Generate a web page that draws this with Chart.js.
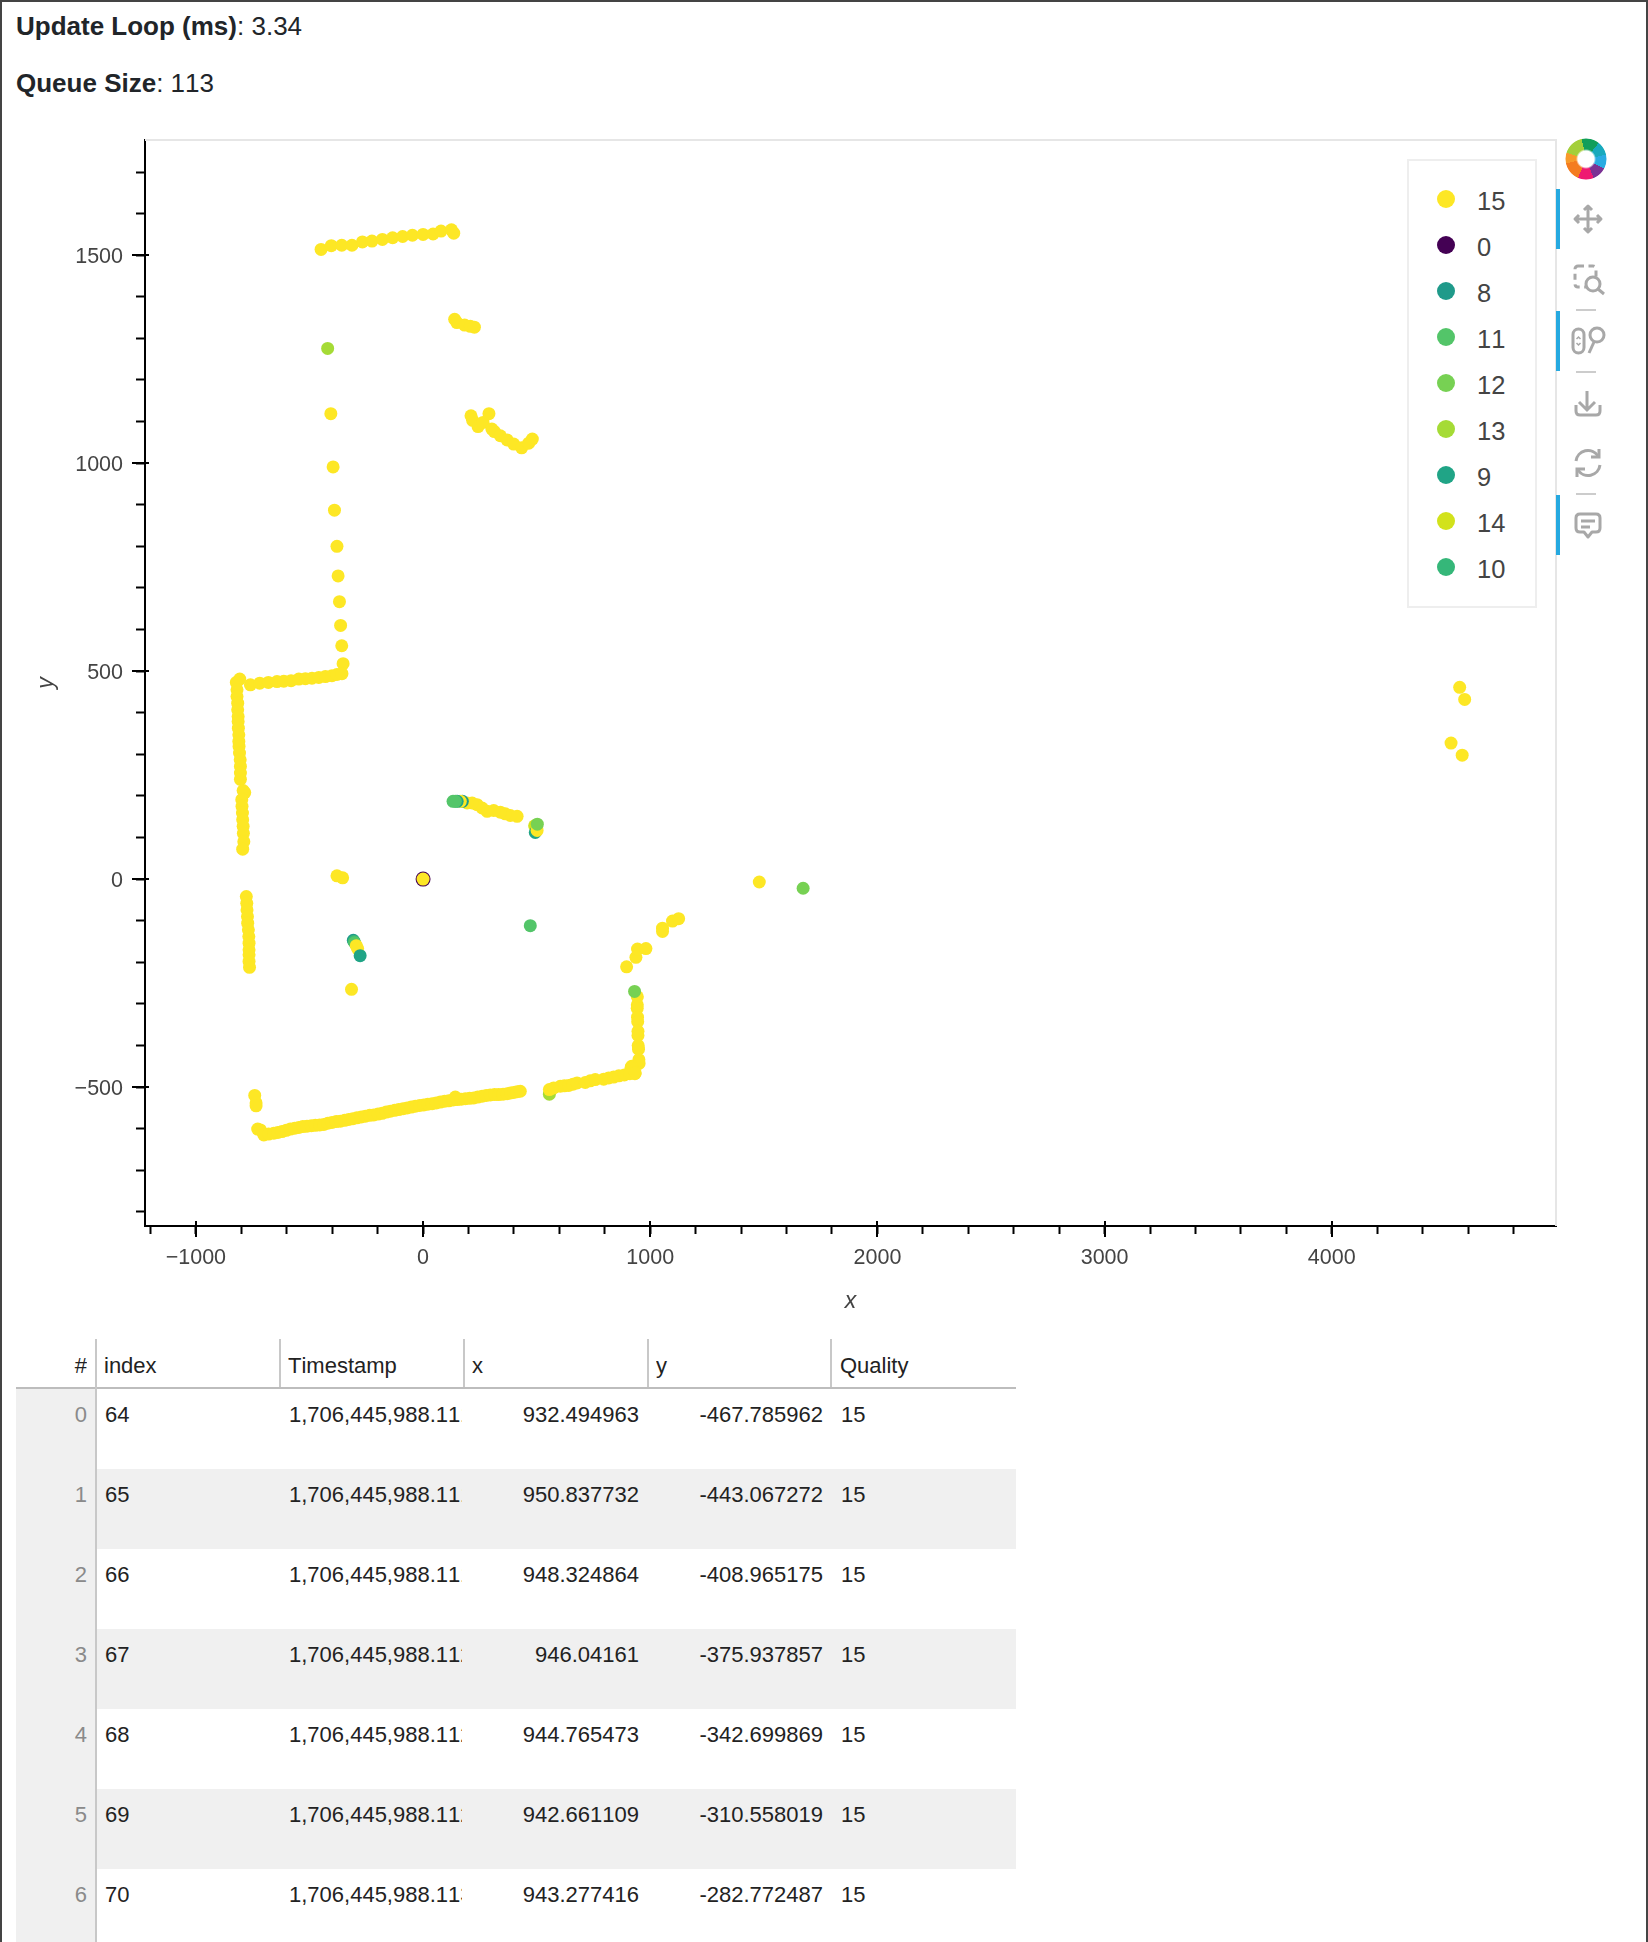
<!DOCTYPE html>
<html><head><meta charset="utf-8">
<script src="https://cdn.jsdelivr.net/npm/chart.js@4/dist/chart.umd.js"></script>
<style>
html,body{margin:0;padding:0;background:#fff}
body{position:relative;width:1648px;height:1942px;overflow:hidden;font-family:"Liberation Sans",Arial,sans-serif;color:#212529;font-kerning:none}
#frame{position:absolute;left:0;top:0;height:1942px;border-left:2px solid #444;border-top:2px solid #444;border-right:2px solid #444;box-sizing:border-box;width:1648px;pointer-events:none;z-index:5}
.stat{position:absolute;left:16px;font-size:26px;line-height:30px;white-space:pre}
canvas{position:absolute;left:0;top:0}
#legend{position:absolute;left:1407px;top:159px;width:130px;height:449px;box-sizing:border-box;border:2px solid #eee;background:#fff}
.lgd{position:absolute;left:0;width:126px;height:46px}
.lgd i{position:absolute;left:28px;top:14px;width:18px;height:18px;border-radius:50%}
.lgd span{position:absolute;left:68px;top:10.500px;font-size:25.5px;line-height:28px;color:#444}
.cell{position:absolute;font-size:22px;line-height:26px;white-space:nowrap;overflow:hidden;color:#222}
.bar{position:absolute;background:#26a9e0;left:1556px;width:4px;height:60px}
.sep{position:absolute;background:#ccc;left:1576px;width:20px;height:2px}
svg.ic{position:absolute;left:1566px;width:44px;height:44px}
#logo{position:absolute;left:1565px;top:138px;width:42px;height:42px;border-radius:50%;
background:conic-gradient(from -12deg,#119e5a 0 50deg,#18a9bd 50deg 90deg,#29abe2 90deg 130deg,#7b3294 130deg 170deg,#ee1a72 170deg 215deg,#f47c20 215deg 270deg,#f79a2b 270deg 300deg,#a4cf3a 300deg 360deg);
-webkit-mask:radial-gradient(circle,transparent 0 8px,#000 10px 20px,transparent 21px);mask:radial-gradient(circle,transparent 0 8px,#000 10px 20px,transparent 21px)}
</style></head>
<body>
<div id="frame"></div>
<div class="stat" style="top:11px"><b>Update Loop (ms)</b>: 3.34</div>
<div class="stat" style="top:68px"><b>Queue Size</b>: 113</div>
<canvas id="c" width="1648" height="1330" style="width:1648px;height:1330px"></canvas>
<div id="legend"></div>
<div id="logo"></div>
<div class="bar" style="top:189px"></div><div class="bar" style="top:311px"></div><div class="bar" style="top:495px"></div>
<div class="sep" style="top:309px"></div><div class="sep" style="top:371px"></div><div class="sep" style="top:493px"></div>
<svg class="ic" style="top:197px" viewBox="0 0 44 44" fill="none" stroke="#a8a8a8" stroke-width="3" stroke-linejoin="round"><path d="M22 9V35M9 22H35M18 13l4-4 4 4M18 31l4 4 4-4M13 18l-4 4 4 4M31 18l4 4-4 4"/></svg>
<svg class="ic" style="top:259px" viewBox="0 0 44 44" fill="none" stroke="#a8a8a8" stroke-width="3"><rect x="9" y="7" width="21" height="21" rx="3" stroke-dasharray="6 4.500"/><circle cx="27" cy="25" r="7" fill="#fff"/><path d="M32 30l6 5"/></svg>
<svg class="ic" style="top:317px" viewBox="0 0 44 44" fill="none" stroke="#a8a8a8" stroke-width="3"><rect x="7" y="12" width="11" height="24" rx="5.500"/><path d="M10.500 22l2-2 2 2M10.500 26l2 2 2-2" stroke-width="1.500"/><circle cx="31" cy="18" r="7"/><path d="M28 25l-5 11"/></svg>
<svg class="ic" style="top:381px" viewBox="0 0 44 44" fill="none" stroke="#a8a8a8" stroke-width="3"><path d="M21 10V29M13 21l8 8 8-8M10 24v6q0 4 4 4H30q4 0 4-4v-6"/></svg>
<svg class="ic" style="top:441px" viewBox="0 0 44 44" fill="none" stroke="#a8a8a8" stroke-width="3"><path d="M10 20a12 12 0 0 1 22-5M34 24a12 12 0 0 1-22 5"/><path d="M33 8v8h-8M11 36v-8h8"/></svg>
<svg class="ic" style="top:502px" viewBox="0 0 44 44" fill="none" stroke="#a8a8a8" stroke-width="3" stroke-linejoin="round"><path d="M14 12H30q4 0 4 4V26q0 4-4 4H26l-4 5-4-5H14q-4 0-4-4V16q0-4 4-4ZM15 19H29M15 25H24"/></svg>
<div id="table"></div>
<script>
// ---- Scan points as [x, y, quality], in drawing order ----
const wallTop = [[-449,1514,15],[-404,1523,15],[-358,1524,15],[-313,1524,15],[-267,1532,15],[-225,1534,15],[-179,1538,15],[-134,1542,15],[-90,1545,15],[-47,1548,15],[0,1550,15],[44,1551,15],[79,1558,15],[125,1561,15],[135,1553,15]];
const wallShort = [[139,1346,15],[149,1338,15],[183,1332,15],[208,1329,15],[226,1327,15]];
const wallCurve = [[211,1114,15],[218,1103,15],[242,1088,15],[264,1098,15],[290,1119,15],[303,1082,15],[314,1076,15],[340,1066,15],[370,1056,15],[399,1046,15],[434,1037,15],[465,1048,15],[481,1058,15]];
const columnSparse = [[-420,1276,13],[-406,1119,15],[-396,991,15],[-390,887,15],[-379,800,15],[-374,729,15],[-368,667,15],[-363,610,15],[-358,561,15],[-352,518,15]];
const wallUpperLeft = [[-760,467,15],[-719,471,15],[-681,473,15],[-643,475,15],[-613,476,15],[-581,477,15],[-547,481,15],[-518,482,15],[-489,483,15],[-459,485,15],[-430,487,15],[-401,489,15],[-379,492,15],[-357,494,15]];
const wallLeft = [[-807,481,15],[-822,473,15],[-819,455,15],[-819,439,15],[-816,423,15],[-816,407,15],[-814,391,15],[-814,379,15],[-813,363,15],[-811,347,15],[-811,331,15],[-810,319,15],[-808,303,15],[-805,287,15],[-804,271,15],[-804,255,15],[-804,240,15],[-785,208,15],[-792,213,15],[-798,191,15],[-797,175,15],[-795,159,15],[-794,143,15],[-792,127,15],[-791,110,15],[-789,90,15],[-794,72,15]];
const wallLowerLeft = [[-778,-42,15],[-776,-58,15],[-775,-74,15],[-773,-90,15],[-772,-106,15],[-769,-122,15],[-767,-138,15],[-766,-154,15],[-766,-170,15],[-766,-182,15],[-766,-198,15],[-764,-212,15]];
const nearOrigin = [[-379,8,15],[-354,3,15],[0,0,0],[0,0,15]];
const centerCluster = [[414,151,15],[384,153,15],[362,157,15],[340,161,15],[311,165,15],[282,163,15],[260,171,15],[238,179,15],[216,183,15],[194,183,15],[173,187,8],[164,187,15],[150,187,9],[142,187,11],[132,187,11]];
const rightCluster = [[491,128,14],[494,112,9],[502,117,15],[503,132,12]];
const lowerCluster = [[-307,-147,8],[-304,-150,10],[-301,-153,11],[-294,-160,15],[-288,-167,15],[-277,-184,9],[-315,-265,15]];
const lonePoints = [[472,-112,11],[1480,-7,15],[1673,-22,12],[4563,461,15],[4585,432,15],[4525,327,15],[4574,298,15]];
const wallStairs = [[896,-211,15],[937,-188,15],[944,-168,15],[981,-167,15],[1054,-118,15],[1054,-126,15],[1098,-101,15],[1125,-95,15]];
const wallRightColumn = [[943.28,-282.77,15],[943,-302,15],[942.66,-310.56,15],[944,-332,15],[944.77,-342.70,15],[946,-366,15],[946.04,-375.94,15],[947,-400,15],[948.32,-408.97,15],[950,-434,15],[950.84,-443.07,15],[918,-450,15],[932.49,-467.79,15],[931,-270,12]];
const wallBottomA = [[-741,-520,15],[-735,-538,15],[-735,-545,15],[-728,-601,15],[-716,-603,15],[-701,-615,15],[-680,-613,15],[-657,-611,15],[-639,-609,15],[-621,-607,15],[-602,-604,15],[-584,-601,15],[-565,-599,15],[-547,-597,15],[-529,-595,15],[-511,-594,15],[-492,-593,15],[-474,-592,15],[-455,-591,15],[-437,-590,15],[-419,-587,15],[-401,-585,15],[-382,-583,15],[-364,-582,15],[-345,-580,15],[-327,-578,15],[-309,-576,15],[-291,-574,15],[-272,-572,15],[-254,-570,15],[-235,-568,15],[-217,-567,15],[-198,-565,15],[-180,-563,15],[-162,-560,15],[-144,-558,15],[-125,-556,15],[-107,-554,15],[-88,-552,15],[-70,-550,15],[-52,-548,15],[-34,-546,15],[-15,-544,15],[3,-543,15],[21,-541,15],[40,-540,15],[58,-538,15],[76,-536,15],[95,-534,15],[113,-533,15],[132,-531,15],[142,-524,15],[150,-530,15],[168,-529,15],[186,-528,15],[205,-527,15],[223,-526,15],[241,-524,15],[260,-522,15],[278,-520,15],[296,-519,15],[315,-518,15],[333,-518,15],[352,-517,15],[370,-516,15],[385,-514,15],[399,-513,15],[414,-511,15],[428,-510,15]];
const wallBottomB = [[556,-517,13],[556,-506,15],[575,-502,15],[604,-498,15],[622,-497,15],[641,-496,15],[660,-493,15],[678,-490,15],[714,-489,15],[736,-485,15],[758,-482,15],[795,-481,15],[817,-478,15],[839,-476,15],[862,-473,15],[886,-471,15],[915,-454,15],[910,-468,15],[934,-466,15]];

const qualityLabels = ['15','0','8','11','12','13','9','14','10'];
const qualityColors = ['#fde725','#440154','#1f9a8a','#53c569','#77d153','#a5db36','#20a486','#d2e21b','#35b779'];

const xMajorTicks = [-1000,0,1000,2000,3000,4000];
const yMajorTicks = [-500,0,500,1000,1500];
const xMinorTicks = [-1200,-1000,-800,-600,-400,-200,0,200,400,600,800,1000,1200,1400,1600,1800,2000,2200,2400,2600,2800,3000,3200,3400,3600,3800,4000,4200,4400,4600,4800];
const yMinorTicks = [-800,-700,-600,-500,-400,-300,-200,-100,0,100,200,300,400,500,600,700,800,900,1000,1100,1200,1300,1400,1500,1600,1700];

const tableRows = ['0','1','2','3','4','5','6'];
const tableIndex = ['64','65','66','67','68','69','70'];
const tableTimestamp = ['1,706,445,988.111','1,706,445,988.111','1,706,445,988.111','1,706,445,988.112','1,706,445,988.112','1,706,445,988.112','1,706,445,988.113'];
const tableX = ['932.494963','950.837732','948.324864','946.04161','944.765473','942.661109','943.277416'];
const tableY = ['-467.785962','-443.067272','-408.965175','-375.937857','-342.699869','-310.558019','-282.772487'];
const tableQuality = ['15','15','15','15','15','15','15'];
const tableHeaders = ['index','Timestamp','x','y','Quality'];

const allPoints = [].concat(wallTop,wallShort,wallCurve,columnSparse,wallUpperLeft,wallLeft,wallLowerLeft,nearOrigin,centerCluster,rightCluster,lowerCluster,lonePoints,wallStairs,wallRightColumn,wallBottomA,wallBottomB);
const colorOf = q => qualityColors[qualityLabels.indexOf(String(q))];

// legend
const lg = document.getElementById('legend');
qualityLabels.forEach((l,i)=>{
  const d=document.createElement('div');d.className='lgd';d.style.top=(15+i*46)+'px';
  d.innerHTML='<i style="background:'+qualityColors[i]+'"></i><span>'+l+'</span>';lg.appendChild(d);
});

// table
const T=document.getElementById('table');
function box(l,t,w,h,bg){const d=document.createElement('div');d.style.cssText='position:absolute;left:'+l+'px;top:'+t+'px;width:'+w+'px;height:'+h+'px;background:'+bg;T.appendChild(d);}
function cell(txt,l,t,w,align,color){const d=document.createElement('div');d.className='cell';d.textContent=txt;d.style.cssText+='left:'+l+'px;top:'+t+'px;width:'+w+'px;text-align:'+align+';'+(color?'color:'+color:'');T.appendChild(d);}
const rowTop=1389,rowH=80;
tableRows.forEach((r,i)=>{
  if(i%2===1) box(95,rowTop+i*rowH,921,rowH,'#f0f0f0');
});
box(16,rowTop,79,1942-rowTop,'#f0f0f0');
box(16,1387,1000,2,'#bdbdbd');
box(95,1339,2,603,'#c8c8c8');
[279,463,647,830].forEach(x=>box(x,1339,2,48,'#c8c8c8'));
cell('#',30,1353,57,'right');
const hdrX=[104,288,472,656,840];
tableHeaders.forEach((h,i)=>cell(h,hdrX[i],1353,170,'left'));
tableRows.forEach((r,i)=>{
  const y=rowTop+i*rowH+13;
  cell(r,30,y,57,'right','#8a8a8a');
  cell(tableIndex[i],105,y,170,'left');
  cell(tableTimestamp[i],289,y,173,'left');
  cell(tableX[i],470,y,169,'right');
  cell(tableY[i],655,y,168,'right');
  cell(tableQuality[i],841,y,160,'left');
});

// chart
const majorTicks = {
  id:'majorTicks',
  beforeDatasetsDraw(chart){
    const {ctx,chartArea:a,scales:{x,y}}=chart;
    ctx.save();
    ctx.strokeStyle='#e6e6e6';ctx.lineWidth=2;
    ctx.beginPath();ctx.moveTo(a.left,a.top);ctx.lineTo(a.right,a.top);ctx.lineTo(a.right,a.bottom);ctx.stroke();
    ctx.strokeStyle='#000';ctx.lineWidth=2;
    ctx.beginPath();
    xMajorTicks.forEach(v=>{const p=Math.round(x.getPixelForValue(v));ctx.moveTo(p,a.bottom-5);ctx.lineTo(p,a.bottom+11);});
    yMajorTicks.forEach(v=>{const p=Math.round(y.getPixelForValue(v));ctx.moveTo(a.left-13,p);ctx.lineTo(a.left+4,p);});
    ctx.stroke();ctx.restore();
  }
};
const tickText = list => v => list.includes(v) ? (v<0?'\u2212'+Math.abs(v):String(v)) : '';
const tickFont={family:'"Liberation Sans",Arial,sans-serif',size:21.5};
const titleFont={family:'"Liberation Sans",Arial,sans-serif',size:23,style:'italic',weight:'normal'};
new Chart(document.getElementById('c'),{
  type:'scatter',
  data:{datasets:[{
    label:'Quality',
    data:allPoints.map(p=>({x:p[0],y:p[1],q:p[2]})),
    pointBackgroundColor:c=>colorOf(c.raw.q),
    pointBorderWidth:0,
    pointRadius:c=>c.raw.q===0?7.5:6.5,
    pointHoverRadius:6.5
  }]},
  plugins:[majorTicks],
  options:{
    responsive:false,animation:false,devicePixelRatio:1,
    layout:{padding:{left:0,top:140,right:92,bottom:0}},
    plugins:{legend:{display:false},tooltip:{enabled:false}},
    scales:{
      x:{type:'linear',min:-1224,max:4987,
        afterFit(s){s.height=104;},
        afterBuildTicks(s){s.ticks=xMinorTicks.map(v=>({value:v}));},
        border:{color:'#000',width:2},
        grid:{drawOnChartArea:false,tickLength:8,tickWidth:2,tickColor:'#000'},
        ticks:{autoSkip:false,maxRotation:0,font:tickFont,color:'#444',padding:11,callback:tickText(xMajorTicks)},
        title:{display:true,text:'x',font:titleFont,color:'#444',padding:{top:0,bottom:15}}
      },
      y:{type:'linear',min:-834,max:1777,
        afterFit(s){s.width=145;},
        afterBuildTicks(s){s.ticks=yMinorTicks.map(v=>({value:v}));},
        border:{color:'#000',width:2},
        grid:{drawOnChartArea:false,tickLength:9,tickWidth:2,tickColor:'#000'},
        ticks:{autoSkip:false,font:tickFont,color:'#444',padding:13,labelOffset:2,callback:tickText(yMajorTicks)},
        title:{display:true,text:'y',font:titleFont,color:'#444',padding:{top:33,bottom:0}}
      }
    }
  }
});
</script>
</body></html>
